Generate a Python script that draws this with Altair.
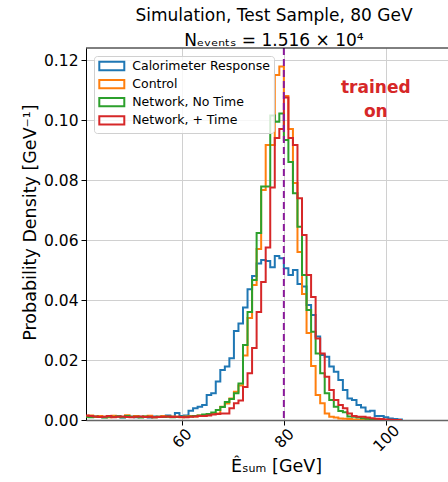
import altair as alt
import pandas as pd

# ---------------- data ----------------
SERIES = ["Calorimeter Response", "Control", "Network, No Time", "Network, + Time"]
COLORS = ["#1f77b4", "#ff7f0e", "#2ca02c", "#d62728"]

BIN_WIDTH = 80 / 90          # GeV
FIRST_BIN = -44              # index of the first bin, counted from the 80 GeV edge

calo = [0.0013, 0.0012, 0.0010, 0.0011, 0.0009, 0.0012, 0.0010, 0.0013, 0.0008, 0.0011,
        0.0012, 0.0009, 0.0011, 0.0010, 0.0008, 0.0012, 0.0011, 0.0010, 0.0015, 0.0012,
        0.0023, 0.0013, 0.0015, 0.0031, 0.0039, 0.0044, 0.0050, 0.0083, 0.0089, 0.0128,
        0.0167, 0.0178,
        0.0206, 0.0297, 0.0322, 0.0375, 0.0436, 0.0480, 0.0522, 0.0533, 0.0530, 0.0509,
        0.0547, 0.0539,
        0.0506, 0.0483, 0.0500, 0.0453, 0.0445, 0.0383, 0.0350, 0.0278, 0.0217, 0.0211,
        0.0178, 0.0161, 0.0133, 0.0100, 0.0072, 0.0067, 0.0050, 0.0042, 0.0028, 0.0031,
        0.0013, 0.0013, 0.0009, 0.0005, 0.0003, 0.0002]

control = [0.0012, 0.0015, 0.0010, 0.0013, 0.0011, 0.0009, 0.0014, 0.0012, 0.0010, 0.0016,
           0.0011, 0.0013, 0.0010, 0.0012, 0.0014, 0.0009, 0.0011, 0.0013, 0.0010, 0.0012,
           0.0011, 0.0009, 0.0012, 0.0013, 0.0012, 0.0015, 0.0015, 0.0018, 0.0020, 0.0022,
           0.0044, 0.0055,
           0.0072, 0.0094, 0.0115, 0.0215, 0.0340, 0.0450, 0.0570, 0.0767, 0.0917, 0.0917,
           0.1150, 0.1178,
           0.1080, 0.0970, 0.0790, 0.0560, 0.0420, 0.0290, 0.0180, 0.0083, 0.0056, 0.0022,
           0.0011, 0.0008, 0.0005, 0.0004, 0.0003, 0.0002, 0.0001, 0.0001, 0.0, 0.0,
           0.0, 0.0, 0.0, 0.0, 0.0, 0.0]

no_time = [0.0011, 0.0009, 0.0012, 0.0010, 0.0008, 0.0011, 0.0010, 0.0012, 0.0009, 0.0013,
           0.0010, 0.0011, 0.0008, 0.0012, 0.0010, 0.0009, 0.0011, 0.0010, 0.0012, 0.0009,
           0.0010, 0.0011, 0.0010, 0.0012, 0.0013, 0.0015, 0.0018, 0.0020, 0.0025, 0.0033,
           0.0043, 0.0060,
           0.0070, 0.0089, 0.0122, 0.0250, 0.0360, 0.0467, 0.0623, 0.0778, 0.0778, 0.1015,
           0.0994, 0.1022,
           0.0933, 0.0860, 0.0756, 0.0644, 0.0483, 0.0367, 0.0294, 0.0222, 0.0156, 0.0089,
           0.0067, 0.0044, 0.0030, 0.0026, 0.0012, 0.0011, 0.0008, 0.0006, 0.0004, 0.0003,
           0.0002, 0.0001, 0.0, 0.0, 0.0, 0.0]

plus_time = [0.0015, 0.0013, 0.0012, 0.0010, 0.0011, 0.0013, 0.0009, 0.0011, 0.0012, 0.0010,
             0.0009, 0.0011, 0.0012, 0.0010, 0.0011, 0.0009, 0.0010, 0.0011, 0.0012, 0.0010,
             0.0011, 0.0010, 0.0009, 0.0011, 0.0012, 0.0013, 0.0013, 0.0015, 0.0018, 0.0020,
             0.0022, 0.0022,
             0.0039, 0.0056, 0.0065, 0.0110, 0.0156, 0.0240, 0.0360, 0.0460, 0.0575, 0.0775,
             0.0940, 0.0970,
             0.1075, 0.0940, 0.0917, 0.0739, 0.0617, 0.0483, 0.0410, 0.0272, 0.0222, 0.0144,
             0.0100, 0.0067, 0.0050, 0.0039, 0.0022, 0.0013, 0.0011, 0.0011, 0.0008, 0.0006,
             0.0004, 0.0003, 0.0002, 0.0001, 0.0, 0.0]

TRAIN_ENERGY = [80]
ANNOT_TEXT = ["trained", "on"]
ANNOT_X = [98.0, 98.0]
ANNOT_Y = [0.1108, 0.1028]

X_TICKS = [60, 80, 100]
Y_TICKS = [0.0, 0.02, 0.04, 0.06, 0.08, 0.10, 0.12]

TITLE_LINE1 = "Simulation, Test Sample, 80 GeV"
TITLE_LINE2 = "Nₑᵥₑₙₜₛ = 1.516 × 10⁴"

# ---------------- tables ----------------
n_bins = len(calo)
edges = [80 + BIN_WIDTH * k for k in range(FIRST_BIN, FIRST_BIN + n_bins + 1)]
rows = []
for name, vals in zip(SERIES, [calo, control, no_time, plus_time]):
    for i, v in enumerate(vals):
        rows.append({"series": name, "x": edges[i], "y": v, "i": i})
    rows.append({"series": name, "x": edges[-1], "y": 0.0, "i": n_bins})
hist_df = pd.DataFrame(rows)
line_df = pd.DataFrame({"x": TRAIN_ENERGY})
text_df = pd.DataFrame({"x": ANNOT_X, "y": ANNOT_Y, "t": ANNOT_TEXT})

W, H = 362, 372
FONT = "DejaVu Sans"
x_scale = alt.Scale(domain=[41.26, 112.14], nice=False, zero=False)
y_scale = alt.Scale(domain=[0, 0.124], nice=False, zero=True)

legend = alt.Legend(
    title=None, orient="top-left", offset=7.5, padding=3.75,
    fillColor="rgba(255,255,255,0.8)", strokeColor="#d0d0d0", cornerRadius=3,
    symbolType="M-2.5,-0.83H2.5V0.83H-2.5Z", symbolSize=100, symbolStrokeWidth=2,
    symbolFillColor="transparent", symbolOffset=7.8, labelOffset=14.2,
    labelFontSize=12.5, labelFont=FONT, labelColor="black", rowPadding=1.1,
    labelLimit=300,
)

hist = alt.Chart(hist_df).mark_line(interpolate="step-after", strokeWidth=2, clip=True).encode(
    x=alt.X("x:Q", scale=x_scale, axis=alt.Axis(
        values=X_TICKS, format="d", labelAngle=315, labelAlign="center",
        labelBaseline="middle", labelPadding=13, title="Êₛᵤₘ [GeV]",
        titleX=190, titleY=46, titleAlign="center", titleBaseline="middle",
        domainColor="#666666", domainWidth=1.5)),
    y=alt.Y("y:Q", scale=y_scale, axis=alt.Axis(
        values=Y_TICKS, format=".2f", labelPadding=3,
        title="Probability Density [GeV⁻¹]", titleX=-56, titleY=174,
        titleAlign="center", titleBaseline="middle")),
    color=alt.Color("series:N", scale=alt.Scale(domain=SERIES, range=COLORS), legend=legend),
    order="i:Q",
)

vline = alt.Chart(line_df).mark_rule(color="#8b1a9b", strokeWidth=2, strokeDash=[7, 4]).encode(
    x=alt.X("x:Q", scale=x_scale)
)

annot = alt.Chart(text_df).mark_text(
    color="#d62728", fontWeight="bold", fontSize=17, font=FONT, align="center", baseline="middle"
).encode(x=alt.X("x:Q", scale=x_scale), y=alt.Y("y:Q", scale=y_scale), text="t:N")

top_border = alt.Chart(line_df).mark_rule(color="black", strokeWidth=1).encode(
    x=alt.value(0), x2=alt.value(W), y=alt.value(0)
)

chart = alt.layer(hist, vline, annot, top_border).properties(
    width=W, height=H,
    padding={"left": 86, "top": 48, "right": 0, "bottom": 62},
    autosize=alt.AutoSizeParams(type="none"),
    title=alt.Title(text=TITLE_LINE1, subtitle=TITLE_LINE2, fontSize=17, font=FONT,
                    fontWeight="normal", color="black", subtitleFontSize=17,
                    subtitleFont=FONT, subtitleColor="black", subtitlePadding=8,
                    anchor="middle", dx=7, offset=-3),
).configure_view(stroke=None).configure_axis(
    labelFont=FONT, titleFont=FONT, labelColor="black", titleColor="black",
    titleFontWeight="normal", labelFontSize=15.5, titleFontSize=17.5,
    gridColor="#d0d0d0", gridWidth=1, domainColor="black", domainWidth=1,
    tickColor="black", tickSize=5, tickWidth=1,
)

chart.save("out.html", embed_options={"renderer": "svg", "actions": False})
